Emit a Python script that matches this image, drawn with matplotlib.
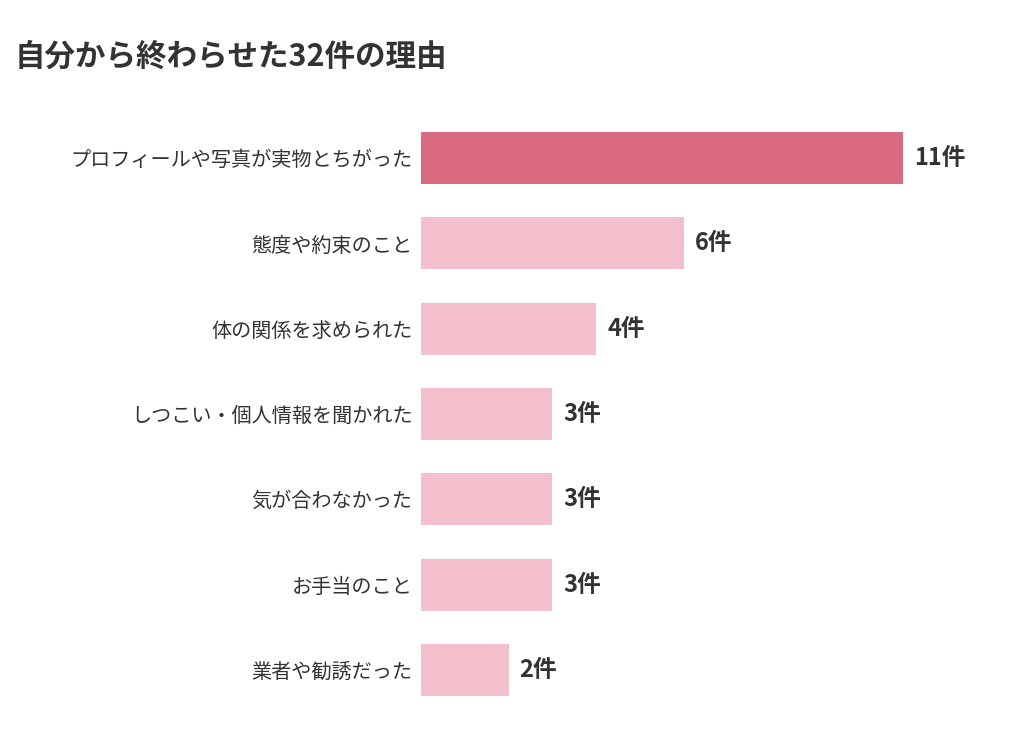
import matplotlib
matplotlib.use("Agg")
import matplotlib.pyplot as plt

plt.rcParams['font.family'] = ['Noto Sans CJK JP', 'DejaVu Sans']

title = "自分から終わらせた32件の理由"
categories = ["プロフィールや写真が実物とちがった", "態度や約束のこと", "体の関係を求められた",
              "しつこい・個人情報を聞かれた", "気が合わなかった", "お手当のこと", "業者や勧誘だった"]
counts = [11, 6, 4, 3, 3, 3, 2]
colors = ["#DB6B82"] + ["#F5C0CD"] * 6

fig = plt.figure(figsize=(10.24, 7.4), dpi=100)
ax = fig.add_axes([421 / 1024, 1 - 712.5 / 740, 579 / 1024, 597 / 740])
ys = range(len(categories))
ax.barh(ys, counts, height=0.61, color=colors)
ax.set_xlim(0, 579 / 43.8)
ax.set_ylim(len(categories) - 0.5, -0.5)
for y, c in zip(ys, counts):
    ax.text(c + 0.25, y, f"{c}件", va="center", ha="left", fontsize=17,
            fontweight="bold", color="#333333")
ax.set_yticks(list(ys))
ax.set_yticklabels(categories, fontsize=14.5, color="#333333")
ax.tick_params(axis="y", length=0, pad=6)
ax.set_xticks([])
for s in ax.spines.values():
    s.set_visible(False)

fig.text(15 / 1024, 1 - 57 / 740, title, fontsize=22, fontweight="bold",
         color="#333333", va="center", ha="left")
fig.savefig("out.png", dpi=100)
